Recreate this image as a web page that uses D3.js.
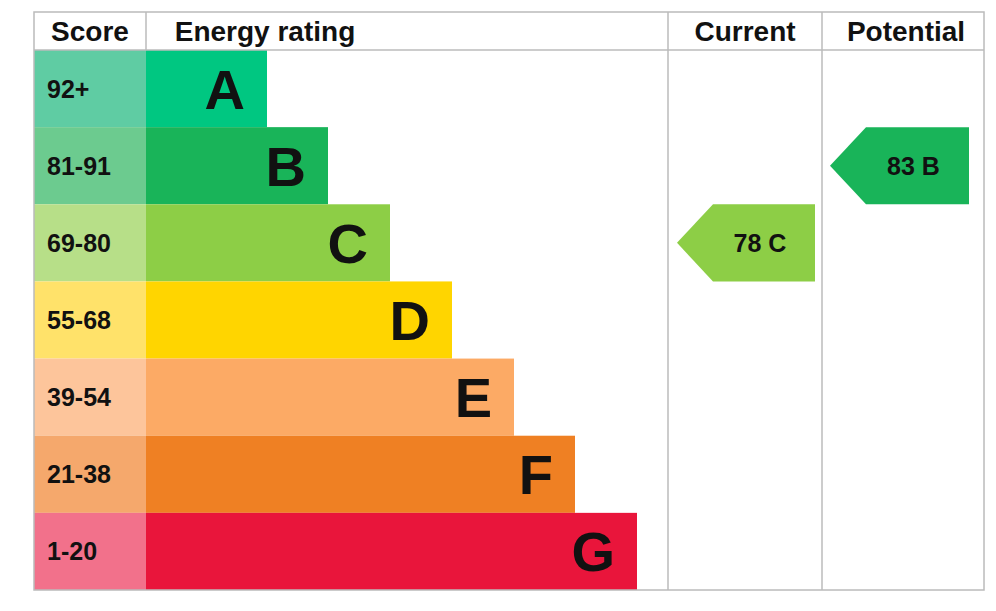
<!DOCTYPE html><html><head><meta charset="utf-8">
<script src="https://cdn.jsdelivr.net/npm/d3@7/dist/d3.min.js"></script>
<style>body{margin:0;background:#fff}</style></head><body>
<svg id="c" width="996" height="611"></svg>
<script>
const bands=["A","B","C","D","E","F","G"];
const scores=["92+","81-91","69-80","55-68","39-54","21-38","1-20"];
const barMax=[100,91,80,68,54,38,20];
const barColors=["#00c781","#19b459","#8dce46","#ffd500","#fcaa65","#ef8023","#e9153b"];
const scoreColors=["#5fcca3","#6ccb8f","#b7df88","#ffe26a","#fdc59b","#f5a86c","#f2718b"];
const currentVal=78, currentBand="C", potentialVal=83, potentialBand="B";
const svg=d3.select("#c");
const L=34,R=984,T=12,H=50,B=590;
const y=d3.scaleBand().domain(bands).range([H,B]);
const x=d3.scaleLinear().domain([0,7]).range([146,637]);
const font="Liberation Sans, Arial, sans-serif";
const g=svg.append("g");
// score cells
g.selectAll(".s").data(bands).join("rect").attr("x",L).attr("y",d=>y(d)).attr("width",146-L).attr("height",y.bandwidth()).attr("fill",(d,i)=>scoreColors[i]);
g.selectAll(".st").data(bands).join("text").attr("x",47).attr("y",d=>y(d)+y.bandwidth()/2+9).text((d,i)=>scores[i]).attr("font-family",font).attr("font-weight","bold").attr("font-size",25).attr("fill","#111");
// bars
const w=i=>x(i+1.97)-x(0);
g.selectAll(".b").data(bands).join("rect").attr("x",146).attr("y",d=>y(d)).attr("width",(d,i)=>[121,182,244,306,368,429,491][i]).attr("height",y.bandwidth()).attr("fill",(d,i)=>barColors[i]);
g.selectAll(".bt").data(bands).join("text").attr("x",(d,i)=>146+[121,182,244,306,368,429,491][i]-22).attr("y",d=>y(d)+y.bandwidth()/2+20).attr("text-anchor","end").text(d=>d).attr("font-family",font).attr("font-weight","bold").attr("font-size",56).attr("fill","#111");
// grid
const lc="#bbb";
svg.append("rect").attr("x",L).attr("y",T).attr("width",R-L).attr("height",B-T).attr("fill","none").attr("stroke",lc).attr("stroke-width",1.5);
[[L,H,R,H],[146,T,146,H],[668,T,668,B],[822,T,822,B]].forEach(a=>svg.append("line").attr("x1",a[0]).attr("y1",a[1]).attr("x2",a[2]).attr("y2",a[3]).attr("stroke",lc).attr("stroke-width",1.5));
const hd=[["Score",90],["Energy rating",265],["Current",745],["Potential",906]];
hd.forEach(h=>svg.append("text").attr("x",h[1]).attr("y",41).attr("text-anchor","middle").text(h[0]).attr("font-family",font).attr("font-weight","bold").attr("font-size",28).attr("fill","#111"));
function arrow(x0,x1,band,val,i){const t=y(band),b=t+y.bandwidth(),m=(t+b)/2;
svg.append("path").attr("d",`M${x0},${m}L${x0+36},${t}L${x1},${t}L${x1},${b}L${x0+36},${b}Z`).attr("fill",barColors[i]);
svg.append("text").attr("x",(x0+x1)/2+14).attr("y",m+9).attr("text-anchor","middle").text(val+"  "+band).attr("font-family",font).attr("font-weight","bold").attr("font-size",25).attr("fill","#111");}
arrow(677,815,currentBand,currentVal,bands.indexOf(currentBand));
arrow(830,969,potentialBand,potentialVal,bands.indexOf(potentialBand));
</script></body></html>
